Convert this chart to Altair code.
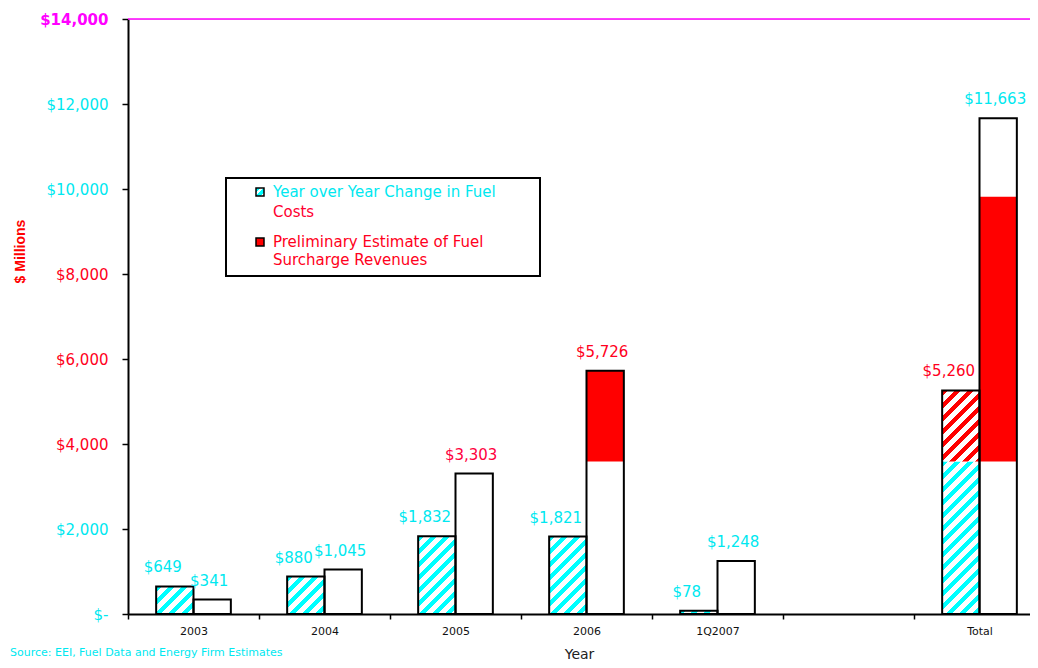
import altair as alt

# ---------------- data ----------------
categories = ["2003", "2004", "2005", "2006", "1Q2007", " ", "Total"]
yoy_change = [649, 880, 1832, 1821, 78, None, 5260]
surcharge = [341, 1045, 3303, 5726, 1248, None, 11663]
yoy_labels = ["$649", "$880", "$1,832", "$1,821", "$78", "", "$5,260"]
surcharge_labels = ["$341", "$1,045", "$3,303", "$5,726", "$1,248", "", "$11,663"]
yoy_label_colors = ["#00e8f0", "#00e8f0", "#00e8f0", "#00e8f0", "#00e8f0", "", "#ff0020"]
surcharge_label_colors = ["#00e8f0", "#00e8f0", "#ff0040", "#ff0020", "#00e8f0", "", "#00e8f0"]

# hatched segments of the year-over-year bars: category, start, end, stripe colour
hatch_category = ["2003", "2004", "2005", "2006", "1Q2007", "Total", "Total"]
hatch_start = [0, 0, 0, 0, 0, 0, 3590]
hatch_end = [649, 880, 1832, 1821, 78, 3590, 5260]
hatch_color = ["#00ffff", "#00ffff", "#00ffff", "#00ffff", "#00ffff", "#00ffff", "#ff0000"]

# solid red segments inside the surcharge bars
red_category = ["2006", "Total"]
red_start = [3590, 3590]
red_end = [5726, 9820]

y_ticks = [0, 2000, 4000, 6000, 8000, 10000, 12000, 14000]
source_note = "Source: EEI, Fuel Data and Energy Firm Estimates"
legend_lines = ["Year over Year Change in Fuel", "Costs",
                "Preliminary Estimate of Fuel", "Surcharge Revenues"]
legend_line_colors = ["#00e8f0", "#ff0030", "#ff0020", "#ff0020"]

# ---------------- layout ----------------
W, H = 902, 595
X_RANGE = 917
Y_MAX = 14000
OFFSET_OUTER = 0.754
FONT = "DejaVu Sans"

step = X_RANGE / len(categories)
bar_px = step / (2 + 2 * OFFSET_OUTER)
ppu = H / Y_MAX


def hatch(color, w, h, period=13.0, frac=0.45):
    L = w + h
    lam = L / (w * w + h * h)
    stops = []
    pos = 0.0
    while pos < L:
        a = pos / L
        b = min((pos + period * frac) / L, 1)
        c = min((pos + period) / L, 1)
        stops += [{"offset": a, "color": color}, {"offset": b, "color": color},
                  {"offset": b, "color": "#ffffff"}, {"offset": c, "color": "#ffffff"}]
        pos += period
    return {"gradient": "linear", "x1": 0, "y1": 0, "x2": lam * w, "y2": lam * h,
            "stops": stops}


bars = []
for i, cat in enumerate(categories):
    if yoy_change[i] is not None:
        bars.append({"category": cat, "series": "A", "start": 0, "end": yoy_change[i],
                     "label": yoy_labels[i], "lc": yoy_label_colors[i]})
    if surcharge[i] is not None:
        bars.append({"category": cat, "series": "B", "start": 0, "end": surcharge[i],
                     "label": surcharge_labels[i], "lc": surcharge_label_colors[i]})

hatches = []
for c, s, e, col in zip(hatch_category, hatch_start, hatch_end, hatch_color):
    hatches.append({"category": c, "series": "A", "start": s, "end": e,
                    "grad": hatch(col, bar_px, (e - s) * ppu)})

reds = [{"category": c, "series": "B", "start": s, "end": e}
        for c, s, e in zip(red_category, red_start, red_end)]

red_cond = "datum.value >= 4000 && datum.value <= 8000"

x_enc = alt.X(
    "category:N", sort=categories,
    scale=alt.Scale(domain=categories, range=[0, X_RANGE], paddingInner=0, paddingOuter=0),
    axis=alt.Axis(title="Year", labelAngle=0, tickBand="extent", domainColor="black",
                  domainWidth=2, tickColor="black", tickSize=5, tickWidth=1.5,
                  labelFont=FONT, labelFontSize=11, labelColor="#111111", labelPadding=6,
                  titleFont=FONT, titleFontSize=14, titleFontWeight="normal",
                  titleColor="#222222", titleY=40, titleX=451, titleBaseline="middle"),
)
xo_enc = alt.XOffset("series:N", scale=alt.Scale(domain=["A", "B"], paddingInner=0,
                                                 paddingOuter=OFFSET_OUTER))
y_enc = alt.Y(
    "start:Q",
    scale=alt.Scale(domain=[0, Y_MAX], nice=False),
    axis=alt.Axis(
        title="$ Millions", values=y_ticks, grid=False, domainColor="black", domainWidth=2,
        tickColor="black", tickSize=6, tickWidth=1.5, labelPadding=14,
        labelFont=FONT, labelFontSize=15,
        labelExpr="datum.value == 0 ? '$-' : '$' + format(datum.value, ',')",
        labelColor={"condition": [{"test": "datum.value == 14000", "value": "#ff00ff"},
                                  {"test": red_cond, "value": "#ff0020"}],
                    "value": "#00e8f0"},
        labelFontWeight={"condition": {"test": "datum.value == 14000", "value": "bold"},
                         "value": "normal"},
        titleColor="#ff0000", titleFont="Liberation Sans", titleFontSize=14,
        titleFontWeight="bold", titleX=-108, titleY=232, titleAlign="center",
        titleBaseline="middle", titleAngle=-90),
)

bars_data = alt.Data(values=bars)

white_fill = alt.Chart(bars_data).mark_bar(fill="white", strokeWidth=0).encode(
    x=x_enc, xOffset=xo_enc, y=y_enc, y2="end:Q")

hatch_layer = alt.Chart(alt.Data(values=hatches)).mark_bar(strokeWidth=0).encode(
    x=x_enc, xOffset=xo_enc, y=y_enc, y2="end:Q",
    fill=alt.Fill("grad:N", scale=None, legend=None))

red_layer = alt.Chart(alt.Data(values=reds)).mark_bar(fill="#ff0000", strokeWidth=0).encode(
    x=x_enc, xOffset=xo_enc, y=y_enc, y2="end:Q")

outline = alt.Chart(bars_data).mark_bar(fillOpacity=0, stroke="black", strokeWidth=2).encode(
    x=x_enc, xOffset=xo_enc, y=y_enc, y2="end:Q")

labels_a = alt.Chart(bars_data).transform_filter("datum.series == 'A'").mark_text(
    font=FONT, fontSize=15, dy=-19, dx=-12, baseline="middle", align="center").encode(
    x=x_enc, xOffset=xo_enc, y=alt.Y("end:Q"), text="label:N",
    color=alt.Color("lc:N", scale=None, legend=None))

labels_b = alt.Chart(bars_data).transform_filter("datum.series == 'B'").mark_text(
    font=FONT, fontSize=15, dy=-19, dx=-3, baseline="middle", align="center").encode(
    x=x_enc, xOffset=xo_enc, y=alt.Y("end:Q"), text="label:N",
    color=alt.Color("lc:N", scale=None, legend=None))

top_rule = alt.Chart(alt.Data(values=[{"v": Y_MAX}])).mark_rule(
    color="#ff00ff", strokeWidth=1.5).encode(
    y=alt.Y("v:Q"), x=alt.value(0), x2=alt.value(W))

# manual legend
legend_box = alt.Chart(alt.Data(values=[{"k": 0}])).mark_rect(
    fill="white", stroke="black", strokeWidth=2).encode(
    x=alt.value(98), x2=alt.value(412), y=alt.value(159), y2=alt.value(257))

sw1 = alt.Chart(alt.Data(values=[{"k": 0}])).mark_rect(
    fill=hatch("#00ffff", 8, 8, period=8, frac=0.6), stroke="black", strokeWidth=1.5).encode(
    x=alt.value(128), x2=alt.value(136), y=alt.value(169), y2=alt.value(177))
sw2 = alt.Chart(alt.Data(values=[{"k": 0}])).mark_rect(
    fill="#ff0000", stroke="black", strokeWidth=1.5).encode(
    x=alt.value(128), x2=alt.value(136), y=alt.value(219), y2=alt.value(227))

legend_y = [173, 193, 223, 241]
legend_text_layers = []
for t, c, yy in zip(legend_lines, legend_line_colors, legend_y):
    legend_text_layers.append(
        alt.Chart(alt.Data(values=[{"t": t}])).mark_text(
            font=FONT, fontSize=15, align="left", baseline="middle", color=c).encode(
            text="t:N", x=alt.value(145), y=alt.value(yy)))

note = alt.Chart(alt.Data(values=[{"t": source_note}])).mark_text(
    font=FONT, fontSize=11, align="left", baseline="middle", color="#00e8f0").encode(
    text="t:N", x=alt.value(-118), y=alt.value(H + 39))

chart = alt.layer(
    white_fill, hatch_layer, red_layer, outline, labels_a, labels_b, top_rule,
    legend_box, sw1, sw2, *legend_text_layers, note,
).properties(
    width=W, height=H,
    autosize=alt.AutoSizeParams(type="none"),
    padding={"left": 120, "top": 11, "right": 0, "bottom": 46},
).configure_view(strokeWidth=0).configure(background="white")

chart.save("out.html", embed_options={"renderer": "svg", "actions": False})
